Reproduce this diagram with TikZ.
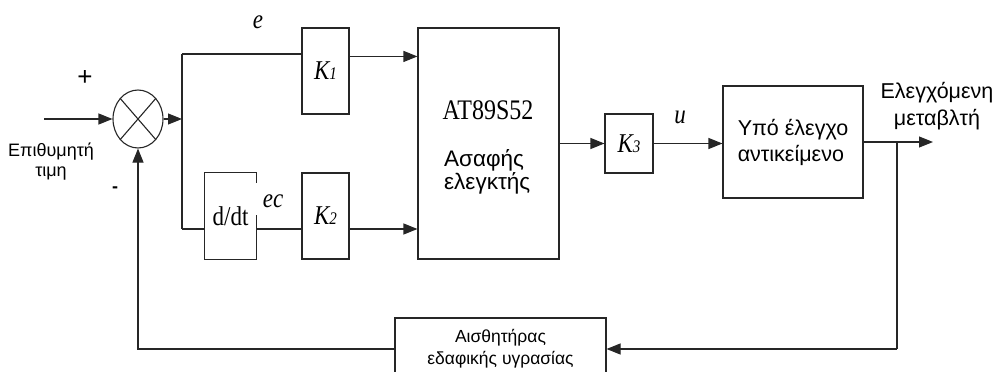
\documentclass[tikz,border=0pt]{standalone}
\usepackage{fontspec}
\setmainfont{Liberation Serif}
\newfontfamily\gr{Liberation Sans}
\usetikzlibrary{arrows.meta,shapes.geometric,calc}
\newcommand{\tallx}[1]{\scalebox{1}[1.18]{#1}}
\newcommand{\gain}[1]{\tallx{\textit{K\fontsize{15}{15}\selectfont #1}}}
\begin{document}
\begin{tikzpicture}[x=1pt,y=-1pt,
  line/.style={line width=1.1pt, draw=black!85},
  arr/.style={line, -{Triangle[length=14pt,width=11pt]}},
  blk/.style={line, rectangle, inner sep=0pt},
  ser/.style={font=\fontsize{23}{26}\selectfont, inner sep=0pt},
  grk/.style={font=\gr\fontsize{22.5}{21}\selectfont, inner sep=0pt}]
\useasboundingbox (0,0) rectangle (997,372);
% summing junction
\node[line, ellipse, minimum width=50pt, minimum height=58pt, inner sep=0pt] (sum) at (138,119) {};
\draw[line] (sum.north west) -- (sum.south east) (sum.north east) -- (sum.south west);
% blocks
\node[blk, ser, minimum width=47pt, minimum height=86pt] (k1) at (325.5,71) {\gain{1}};
\node[blk, ser, minimum width=47pt, minimum height=86pt] (k2) at (325.5,216) {\gain{2}};
\node[ser, minimum width=51pt, minimum height=86pt] (ddt) at (230.5,216) {\tallx{d/dt}};
\draw[line] ($(ddt.north east)+(0,10)$) -- (ddt.north east) -- (ddt.north west) -- (ddt.south west) -- (ddt.south east) -- ($(ddt.south east)+(0,-44)$);
\node[blk, minimum width=141pt, minimum height=231pt] (ctrl) at (488.5,143.5) {};
\node[inner sep=0pt, font=\fontsize{24}{26}\selectfont] (at) at (488,110) {\tallx{AT89S52}};
\node[grk, anchor=west, align=left] (fuzzy) at (444,172) {Ασαφής\\ελεγκτής};
\node[blk, ser, minimum width=48pt, minimum height=59pt] (k3) at (629,143.5) {\gain{3}};
\node[blk, minimum width=140pt, minimum height=112pt, align=left, font=\gr\fontsize{21.5}{26}\selectfont] (plant) at (793,142) {Υπό έλεγχο\\αντικείμενο};
\node[blk, minimum width=211pt, minimum height=62pt, align=center, font=\gr\fontsize{17.5}{22}\selectfont] (sensor) at (500.5,349) {Αισθητήρας\\εδαφικής υγρασίας};
% coordinates
\coordinate (in) at (44,119);
\coordinate (sp) at (182,119);
\coordinate (sptop) at (182,54);
\coordinate (spbot) at (182,229);
\coordinate (out) at (933,142);
\coordinate (br) at (897,142);
% connectors
\draw[arr] (in) -- (sum.west);
\draw[arr] (sum.east) -- (sp);
\draw[line] (sptop) -- (spbot);
\draw[line] (sptop) -- (sptop -| k1.west);
\draw[arr] ($(k1.north east)+(0,29)$) -- ($(ctrl.north west)+(0,29)$);
\draw[line] (spbot) -- (spbot -| ddt.west);
\draw[line] (spbot -| ddt.east) -- (spbot -| k2.west);
\draw[arr] (spbot -| k2.east) -- (spbot -| ctrl.west);
\draw[arr] (ctrl.east |- k3.west) -- (k3.west);
\draw[arr] (k3.east) -- (plant.west |- k3.east);
\draw[arr] (plant.east) -- (out);
\draw[line] (br) -- (br |- sensor.east);
\draw[arr] (br |- sensor.east) -- (sensor.east);
\draw[arr] (sensor.west) -| (sum.south);
% labels
\node[font=\gr\fontsize{26}{26}\selectfont, inner sep=0pt] (plus) at (85,78) {+};
\node[font=\gr\bfseries\fontsize{18}{18}\selectfont, inner sep=0pt] (minus) at (115,190) {-};
\node[font=\gr\fontsize{18}{20}\selectfont, align=center, inner sep=0pt] (ref) at (51,162) {Επιθυμητή\\τιμη};
\node[ser] (e) at (258,22) {\tallx{\textit{e}}};
\node[ser] (ec) at (273,201) {\tallx{\textit{ec}}};
\node[ser] (u) at (680,117) {\tallx{\textit{u}}};
\node[font=\gr\fontsize{21.5}{27}\selectfont, align=center, inner sep=0pt] (yout) at (937,106) {Ελεγχόμενη\\μεταβλτή};
\end{tikzpicture}
\end{document}
